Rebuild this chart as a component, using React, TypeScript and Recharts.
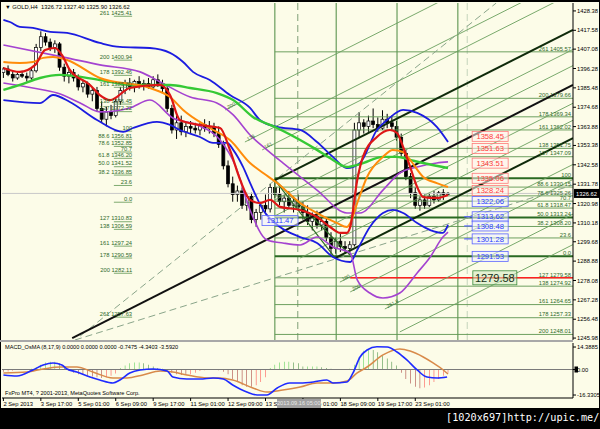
import {
  Bar,
  Cell,
  ComposedChart,
  Line,
  ReferenceDot,
  ReferenceLine,
  XAxis,
  YAxis,
} from 'recharts';

const FONT = '"Liberation Sans", Arial, sans-serif';
const CREAM = '#fcfce8';
const FIB = '#5e9550';
const FIB_DARK = '#2a6a22';
const FIB_TEXT = '#2f6b2a';

const X_DOMAIN: [number, number] = [-0.3, 121.7];
const END = 121.7;
const Y_DOMAIN: [number, number] = [1244.9, 1432.8];
const MACD_DOMAIN: [number, number] = [-18.24, 16.96];

// GOLD H4 bars: [open, high, low, close]
const candles: [number, number, number, number][] = [
  [1394, 1397, 1391, 1396], [1396, 1398, 1392, 1393], [1393, 1395, 1389, 1391], [1391, 1394, 1390, 1393],
  [1393, 1395, 1391, 1392], [1392, 1394, 1389, 1391], [1391, 1396, 1390, 1395], [1395, 1410, 1394, 1408],
  [1408, 1417, 1406, 1414], [1414, 1416, 1409, 1411], [1411, 1413, 1406, 1408], [1408, 1412, 1405, 1410],
  [1410, 1411, 1395, 1397], [1397, 1399, 1389, 1392], [1392, 1396, 1388, 1394], [1394, 1396, 1389, 1391],
  [1391, 1393, 1384, 1386], [1386, 1390, 1383, 1388], [1388, 1389, 1380, 1382], [1382, 1386, 1378, 1384],
  [1384, 1386, 1372, 1374], [1374, 1378, 1366, 1368], [1368, 1375, 1364, 1372], [1372, 1376, 1368, 1370],
  [1370, 1380, 1369, 1378], [1378, 1386, 1376, 1384], [1384, 1390, 1382, 1388], [1388, 1391, 1384, 1386],
  [1386, 1390, 1383, 1389], [1389, 1392, 1385, 1387], [1387, 1390, 1384, 1388], [1388, 1391, 1385, 1386],
  [1386, 1392, 1385, 1390], [1390, 1393, 1386, 1388], [1388, 1390, 1383, 1385], [1385, 1387, 1372, 1374],
  [1374, 1376, 1360, 1362], [1362, 1370, 1357, 1366], [1366, 1370, 1359, 1361], [1361, 1366, 1358, 1364],
  [1364, 1367, 1360, 1363], [1363, 1366, 1360, 1362], [1362, 1366, 1359, 1365], [1365, 1368, 1361, 1363],
  [1363, 1367, 1360, 1364], [1364, 1366, 1358, 1360], [1360, 1364, 1352, 1354], [1354, 1356, 1340, 1342],
  [1342, 1345, 1330, 1332], [1332, 1336, 1322, 1326], [1326, 1331, 1322, 1328], [1328, 1330, 1318, 1320],
  [1320, 1327, 1317, 1325], [1325, 1327, 1310, 1312], [1312, 1318, 1308, 1316], [1316, 1322, 1312, 1320],
  [1320, 1326, 1316, 1318], [1318, 1332, 1316, 1330], [1330, 1335, 1324, 1326], [1326, 1330, 1320, 1322],
  [1322, 1326, 1316, 1324], [1324, 1328, 1318, 1320], [1320, 1325, 1316, 1322], [1322, 1326, 1317, 1319],
  [1319, 1322, 1312, 1316], [1316, 1320, 1309, 1311], [1311, 1316, 1306, 1314], [1314, 1317, 1307, 1309],
  [1309, 1313, 1306, 1311], [1311, 1313, 1300, 1302], [1302, 1305, 1292, 1296], [1296, 1302, 1293, 1300],
  [1300, 1304, 1294, 1297], [1297, 1300, 1293, 1296], [1296, 1300, 1294, 1298], [1298, 1366, 1297, 1362],
  [1362, 1372, 1358, 1366], [1366, 1368, 1360, 1364], [1364, 1370, 1361, 1367], [1367, 1374, 1363, 1365],
  [1365, 1369, 1361, 1363], [1363, 1373, 1362, 1368], [1368, 1371, 1363, 1366], [1366, 1370, 1362, 1364],
  [1364, 1367, 1356, 1358], [1358, 1360, 1347, 1349], [1349, 1351, 1334, 1336], [1336, 1338, 1324, 1327],
  [1327, 1330, 1318, 1320], [1320, 1325, 1317, 1323], [1323, 1326, 1318, 1320], [1320, 1327, 1319, 1325],
  [1325, 1328, 1321, 1323], [1323, 1328, 1322, 1327], [1327, 1329, 1323, 1326], [1326.72, 1327.4, 1325.9, 1326.62],
];

// indicator lines, [bar index, price]
const blueUpper: [number, number][] = [
  [0, 1423.4], [1.4, 1422.2], [3.5, 1419.5], [6.3, 1418.9], [10, 1416.7], [13.6, 1416.1], [20.6, 1410.5],
  [24.9, 1408.3], [31.3, 1407.7], [35.6, 1405], [38.4, 1399.9], [40.5, 1394.4], [44.1, 1389.9], [48.4, 1381.5],
  [52.7, 1374.3], [54.8, 1367.6], [58.5, 1363.7], [63.4, 1362], [67, 1355.3], [70.4, 1347], [73.4, 1340.8],
  [76.2, 1343.6], [79.8, 1362], [82, 1367.6], [85.4, 1373.2], [88.4, 1371.5], [92.6, 1363.7], [95, 1355.3],
];
const blueLower: [number, number][] = [
  [0, 1378.7], [7.8, 1377], [10.6, 1381.5], [14.2, 1377.6], [20, 1367.6], [25.6, 1360.9], [27.7, 1363.1],
  [32.8, 1366.5], [35.6, 1364.8], [37.7, 1362], [42, 1358.1], [44.8, 1354.8], [47.8, 1354.8], [49.1, 1350.9],
  [51.2, 1341.4], [52.7, 1332.5], [55.5, 1317.4], [59.1, 1307.9], [63.4, 1302.3], [67, 1299], [70.4, 1291.2],
  [74.1, 1288.4], [75.6, 1295.1], [78.3, 1307.9], [81.1, 1315.7], [83.2, 1317.4], [85.4, 1315.7], [88.4, 1310.1],
  [91.2, 1306.2], [93.9, 1304.6], [95, 1309.1],
];
const purpleUpper: [number, number][] = [
  [0, 1409.4], [13.6, 1402.2], [20.6, 1398.3], [29.2, 1394.4], [33.5, 1388.8], [39.9, 1380.4], [45.6, 1377.1],
  [49.1, 1370.4], [52.7, 1359.2], [56.3, 1350.9], [59.7, 1343.6], [67, 1328.5], [73.4, 1315.7], [76.2, 1315.7],
  [81.1, 1328.5], [84.7, 1338], [88.4, 1341.4], [92.6, 1343.6], [95, 1344.2],
];
const purpleLower: [number, number][] = [
  [0, 1388.2], [6.3, 1385.4], [11.5, 1382.6], [16.4, 1377.1], [20.6, 1372.1], [27, 1374.3], [31.3, 1378.7],
  [36.2, 1368.7], [41.4, 1364.8], [46.3, 1356.4], [49.5, 1342.5], [52.7, 1317.4], [56.3, 1300.7], [59.7, 1299],
  [63.4, 1297.9], [67, 1302.3], [70.4, 1296.8], [74.1, 1293.4], [75.6, 1278.4], [78.3, 1271.1], [81.1, 1268.3],
  [84.7, 1271.1], [88.4, 1282.3], [91.2, 1291.2], [93.9, 1302.3], [95, 1305.1],
];
const redMa: [number, number][] = [
  [0, 1396.6], [3.5, 1394.4], [6.8, 1398.3], [8.9, 1406.6], [11, 1407.7], [12.5, 1403.8], [14.2, 1395.5],
  [18.5, 1387.1], [20.6, 1381.5], [22.8, 1378.7], [27, 1385.4], [33.5, 1387.1], [35.6, 1381.5], [37.7, 1367.6],
  [42, 1364.8], [46.3, 1363.1], [48.4, 1350.9], [50.6, 1334.1], [52.7, 1323], [54.8, 1321.3], [57, 1323],
  [59.1, 1319.1], [63.4, 1317.4], [67, 1313.5], [69.8, 1307.9], [72, 1304.6], [73.4, 1304.6], [74.1, 1307.9],
  [75.6, 1334.1], [76.8, 1346.9], [79.8, 1358.1], [82.6, 1362], [84.1, 1360.3], [85.4, 1352.5], [86.9, 1341.4],
  [88.4, 1330.2], [89.7, 1324.6], [92.6, 1324.1], [95, 1325.8],
];
const orangeMa: [number, number][] = [
  [0, 1399.9], [3.5, 1399.4], [6.3, 1399.9], [8.5, 1402.2], [10.6, 1402.7], [13.6, 1401], [20.6, 1391],
  [31.3, 1385.4], [35.6, 1380.4], [38.4, 1373.2], [44.1, 1363.1], [48.4, 1356.4], [52.7, 1343.6], [55.5, 1338],
  [58.5, 1332.4], [63.4, 1321.3], [67, 1315.7], [71.3, 1310.1], [73.4, 1307.9], [74.1, 1310.1], [75.6, 1321.3],
  [77.7, 1335.8], [81.1, 1347], [83.2, 1350.9], [85.4, 1349.7], [86.9, 1345.3], [89.7, 1335.8], [92.6, 1332.4],
  [95, 1330.2],
];
const greenMa: [number, number][] = [
  [0, 1384.3], [3.5, 1387.1], [7.8, 1391], [12.1, 1392.7], [20.6, 1389.9], [27.7, 1387.1], [35.6, 1387.1],
  [39.9, 1385.4], [45.6, 1382.6], [49.1, 1378.7], [53.3, 1369.3], [58.5, 1363.1], [63.4, 1356.4], [67, 1350.9],
  [70.4, 1345.3], [73.4, 1341.4], [76.2, 1343], [81.1, 1347], [84.1, 1347], [86.9, 1345.3], [89.7, 1343.6],
  [95, 1340.8],
];

// MACD_OsMA (8,17,9)
const osma = [
  -1.5, -1.2, -0.8, 0, 0.2, 0.3, 0.5, 1.5, 3, 4.5,
  5, 5, 4, 2, -1, -2, -3, -3.5, -4, -4.5,
  -5, -5.5, -5, -4, -2.5, 1, 2.5, 4, 4.5, 4.5,
  4, 3, 2, 1, 0.5, -0.5, -2, -3, -3.5, -3.5,
  -3, -2, -1, -0.5, 0.3, 0.3, -0.5, -1.5, -3, -6,
  -8, -10, -11, -11, -10, -8, -5, 1, 3, 4.5,
  5, 5, 4.5, 4, 2, 2, 2, 2, 1.5, 1,
  0.5, -0.3, -0.3, -0.3, 0.5, 3, 8, 12, 13, 12.5,
  11, 9, 7, 5, 2.5, -2, -6, -9, -11, -12,
  -11.5, -10, -8, -6, -4, -2,
];
const macdMain: [number, number][] = [
  [0, -3.5], [2.9, -4.2], [6.3, -0.3], [8.5, 2.9], [10.6, 4.2], [12.5, 2.9], [13.6, 0.3], [15.7, -1.6],
  [18.5, -4.8], [20.6, -6.7], [23.4, -8.6], [24.9, -6.7], [27, -2.2], [29.2, -0.3], [32, 0.3], [35, -1],
  [36.2, -4.8], [39.2, -6.1], [42, -6.1], [44.8, -5.4], [47, -6.1], [49, -9.9], [52, -14.4], [54.2, -16.3],
  [56.3, -16.3], [58.5, -11.8], [61.2, -8.6], [63.4, -8.6], [66.2, -8], [69.1, -6.7], [70.4, -8.6], [73.4, -8],
  [74.7, -2.2], [76.2, 8], [77.7, 12.5], [79.8, 14.6], [82, 14.4], [84.1, 11.2], [86.2, 6.1], [88.4, -0.3],
  [90.5, -4.8], [92.7, -5.4], [94.8, -4.8],
];
const macdSignal: [number, number][] = [
  [0, -2.2], [5, -1.6], [8.5, 0.3], [12.1, 1.6], [15.7, 1.6], [19.1, -1.6], [23.4, -5.4], [26.4, -5.4],
  [29.8, -3.5], [33.5, -1], [36.2, -1.6], [39.2, -3.5], [43.5, -5.4], [46.3, -5.4], [49, -6.7], [53.3, -11.8],
  [56.3, -14.4], [59.7, -13.1], [63.4, -11.2], [67, -8.6], [70.4, -8.6], [73.4, -7.4], [75.6, -2.2], [77.7, 1.6],
  [81.1, 9.3], [84.7, 13.1], [86.9, 11.8], [89.7, 8], [91.8, 4.2], [94, -0.3], [95, -2.9],
];

const priceTicks = [
  1428.38, 1417.58, 1407.08, 1396.28, 1385.48, 1374.68, 1363.88, 1353.38, 1342.58, 1331.78,
  1320.98, 1310.18, 1299.68, 1288.88, 1278.08, 1267.28, 1256.48, 1245.98,
];
const macdTicks = [14.3885, 0, -16.3305];
const timeTicks = [0, 8, 16, 24, 32, 40, 48, 56, 64, 72, 80, 88];
const timeLabels = [
  '2 Sep 2013', '3 Sep 17:00', '5 Sep 01:00', '6 Sep 09:00', '9 Sep 17:00', '11 Sep 01:00',
  '12 Sep 09:00', '13 Sep 17:00', '17 Sep 01:00', '18 Sep 09:00', '19 Sep 17:00', '23 Sep 01:00',
];

// fibonacci levels: [level, price, price shown]
const fibRight: [string, number, boolean][] = [
  ['261', 1405.57, true], ['200', 1379.66, true], ['178', 1369.34, true], ['161', 1362.02, true],
  ['138', 1351.75, true], ['127', 1347.09, true], ['100', 1335.06, false], ['88.6', 1330.15, true],
  ['78.6', 1325.26, true], ['70.7', 1322.31, false], ['61.8', 1318.47, true], ['50.0', 1313.24, true],
  ['38.2', 1308.2, true], ['23.6', 1301.8, false], ['0.0', 1291.53, false], ['127', 1279.58, true],
  ['138', 1274.92, true], ['161', 1264.65, true], ['178', 1257.33, true], ['200', 1248.01, true],
];
const fibLeft: [string, number, boolean][] = [
  ['261', 1425.41, true], ['200', 1400.94, true], ['178', 1392.46, true], ['161', 1385.8, true],
  ['138', 1376.45, true], ['127', 1372.22, true], ['100', 1361.33, false], ['88.6', 1356.81, true],
  ['78.6', 1352.85, true], ['70.7', 1349.72, false], ['61.8', 1346.2, true], ['50.0', 1341.52, true],
  ['38.2', 1336.85, true], ['23.6', 1331.07, false], ['0.0', 1321.72, false], ['127', 1310.83, true],
  ['138', 1306.59, true], ['161', 1297.24, true], ['178', 1290.59, true], ['200', 1282.11, true],
  ['261', 1257.63, true],
];
const FIB_RIGHT_START = 58.0;
const FIB_LEFT_SPAN: [number, number] = [23.6, 27.5];
const targetLine = 1279.58;
const TARGET_START = 74.1;

// drawn objects, [i1, p1, i2, p2]
const pitchfork: [number, number, number, number][] = [
  [14.7, 1246.0, 121.7, 1387.1],
  [58.0, 1334.1, 121.7, 1417.8],
  [70.9, 1290.6, 121.7, 1357.5],
];
const channelLines: [number, number, number, number][] = [
  [47.4, 1373.2, 121.7, 1471.1], [51.6, 1355.3, 121.7, 1447.6], [55.3, 1350.9, 121.7, 1438.4],
  [58.0, 1323.0, 121.7, 1406.9], [58.0, 1314.1, 121.7, 1397.9], [63.4, 1300.1, 121.7, 1376.9],
  [63.4, 1290.6, 121.7, 1367.4], [71.9, 1277.2, 121.7, 1342.8], [74.1, 1271.7, 121.7, 1334.4],
  [81.5, 1262.2, 121.7, 1315.1], [84.7, 1249.4, 121.7, 1298.1],
];
const channelTags = ['200', '178', '161', '', '', '', '', '100', '200', '261.8', ''];
const fanLines: [number, number, number, number][] = [
  [16.4, 1247.1, 105.3, 1432.8],
  [15.3, 1244.9, 121.7, 1331.3],
];
const anchorLines: [number, number, number, number][] = [
  [58.0, 1334.1, 70.9, 1290.6],
  [58.0, 1334.1, 74.1, 1292.3],
];
const timeZones = [58.0, 71.1, 84.1, 97.1];
const dashedZones = [62.9, 99.1];

// price tags
const resistTags = [1358.45, 1351.63, 1343.51, 1335.06, 1328.24];
const supportTags = [1322.06, 1313.62, 1308.48, 1301.28, 1291.53];
const arrowTags = [1313.62, 1308.48, 1301.28];
const targetTag = 1279.58;
const TAG_I = 104;
const leftTag: [number, number] = [59.1, 1311.47];

const lastBar = candles[candles.length - 1];
const bars = candles.map(([o, h, l, c], i) => ({ i, o, c, range: [l, h] as [number, number] }));
const oscBars = osma.map((h, i) => ({ i, h }));
const toPts = (arr: [number, number][]) => arr.map(([i, v]) => ({ i, v }));

function Candle(props: any) {
  const { x, y, width, height, payload } = props;
  if (x == null || y == null) return null;
  const [lo, hi] = payload.range;
  const h = Math.abs(height);
  const span = hi - lo || 1;
  const py = (v: number) => y + ((hi - v) / span) * h;
  const cx = x + width / 2;
  const top = py(Math.max(payload.o, payload.c));
  const bot = py(Math.min(payload.o, payload.c));
  const up = payload.c >= payload.o;
  return (
    <g>
      <line x1={cx} x2={cx} y1={y} y2={y + h} stroke="#000" strokeWidth={1} />
      <rect
        x={cx - 1.5}
        y={top}
        width={3}
        height={Math.max(1, bot - top)}
        fill={up ? '#fff' : '#000'}
        stroke="#000"
        strokeWidth={0.7}
      />
    </g>
  );
}

function Tag({ cx, cy, text, kind, arrow }: any) {
  const big = kind === 'target';
  const w = big ? 44 : 36;
  const h = big ? 14 : 10;
  const c =
    kind === 'red'
      ? { stroke: '#ff7a7a', text: '#ff3b3b', fill: '#fff1ee' }
      : kind === 'blue'
        ? { stroke: '#5a64ff', text: '#2a3cff', fill: '#eef0ff' }
        : { stroke: '#3c8c3c', text: '#163016', fill: '#cfe8bf' };
  return (
    <g>
      {arrow && <line x1={cx - w / 2 - 8} x2={cx - w / 2} y1={cy} y2={cy} stroke={c.stroke} strokeWidth={1.2} />}
      <rect x={cx - w / 2} y={cy - h / 2} width={w} height={h} fill={c.fill} fillOpacity={0.55} stroke={c.stroke} strokeWidth={0.8} />
      <text x={cx} y={cy + (big ? 4 : 2.7)} textAnchor="middle" fontSize={big ? 11 : 7.6} fill={c.text} fontFamily={FONT}>
        {text}
      </text>
    </g>
  );
}

const fibText = (pct: string, price: number, show: boolean) => (show ? `${pct}  ${price.toFixed(2)}` : pct);

function TimeTick(props: any) {
  const { x, y, payload } = props;
  const k = timeTicks.indexOf(payload.value);
  return (
    <text x={x} y={y + 4.6} fontSize={5.8} fill="#000" fontFamily={FONT}>
      {timeLabels[k]}
    </text>
  );
}

function histColor(v: number, prev: number) {
  if (v >= 0) return v >= prev ? '#22c022' : '#0b6a0b';
  return v <= prev ? '#8b0000' : '#ff1a1a';
}

const lineProps = { dot: false, activeDot: false, isAnimationActive: false, dataKey: 'v', type: 'monotone' as const };

export default function App() {
  return (
    <div style={{ position: 'absolute', left: 0, top: 0, width: 600, height: 429, background: '#000', overflow: 'hidden', fontFamily: FONT }}>
      <div style={{ position: 'absolute', left: 1, top: 2, width: 598, height: 406, background: CREAM }} />

      <div style={{ position: 'absolute', left: 0, top: 0 }}>
        <ComposedChart width={600} height={342} data={bars} margin={{ top: 3, right: 0, bottom: 2, left: 2 }}>
          <XAxis dataKey="i" type="number" domain={X_DOMAIN} allowDataOverflow hide />
          <YAxis
            orientation="right"
            type="number"
            width={27}
            domain={Y_DOMAIN}
            allowDataOverflow
            ticks={priceTicks}
            interval={0}
            tickSize={3}
            tickMargin={1}
            tick={{ fontSize: 5.8, fill: '#000', fontFamily: FONT }}
            tickFormatter={(v: number) => v.toFixed(2)}
            axisLine={{ stroke: '#000' }}
            tickLine={{ stroke: '#000' }}
          />

          <ReferenceLine y={lastBar[3]} stroke="#c8c8c8" />

          {timeZones.map((x) => (
            <ReferenceLine key={`tz${x}`} x={x} stroke="#4c8a40" strokeWidth={1} />
          ))}
          {dashedZones.map((x, k) => (
            <ReferenceLine key={`dz${x}`} x={x} stroke={k === 0 ? '#7f9f77' : '#c4d4bc'} strokeDasharray="7 4" />
          ))}

          {fibRight.map(([pct, p]) => {
            const thick = pct === '100' || pct === '0.0' || pct === '50.0';
            return (
              <ReferenceLine
                key={`fr${pct}${p}`}
                segment={[{ x: FIB_RIGHT_START, y: p }, { x: END, y: p }]}
                stroke={thick ? FIB_DARK : FIB}
                strokeWidth={thick ? 2 : 0.9}
                ifOverflow="hidden"
              />
            );
          })}
          <ReferenceLine
            segment={[{ x: TARGET_START, y: targetLine }, { x: END, y: targetLine }]}
            stroke="#ff2020"
            strokeWidth={1.6}
            ifOverflow="hidden"
          />
          {fibLeft.map(([pct, p]) => (
            <ReferenceLine
              key={`fl${pct}${p}`}
              segment={[{ x: FIB_LEFT_SPAN[0], y: p }, { x: FIB_LEFT_SPAN[1], y: p }]}
              stroke={FIB}
              strokeWidth={0.8}
              ifOverflow="hidden"
            />
          ))}

          {channelLines.map(([a, b, c, d], k) => (
            <ReferenceLine
              key={`ch${k}`}
              segment={[{ x: a, y: b }, { x: c, y: d }]}
              stroke="#6a9f5e"
              strokeWidth={0.9}
              ifOverflow="hidden"
            />
          ))}
          {fanLines.map(([a, b, c, d], k) => (
            <ReferenceLine
              key={`fan${k}`}
              segment={[{ x: a, y: b }, { x: c, y: d }]}
              stroke="#8aa58a"
              strokeDasharray="7 4"
              strokeWidth={1}
              ifOverflow="hidden"
            />
          ))}
          {anchorLines.map(([a, b, c, d], k) => (
            <ReferenceLine
              key={`an${k}`}
              segment={[{ x: a, y: b }, { x: c, y: d }]}
              stroke="#2e6b25"
              strokeWidth={1.2}
              ifOverflow="hidden"
            />
          ))}
          {pitchfork.map(([a, b, c, d], k) => (
            <ReferenceLine
              key={`pf${k}`}
              segment={[{ x: a, y: b }, { x: c, y: d }]}
              stroke={k === 0 ? '#111' : '#0f2a0a'}
              strokeWidth={2}
              ifOverflow="hidden"
            />
          ))}

          <Bar dataKey="range" barSize={3} isAnimationActive={false} shape={(p: any) => <Candle {...p} />} />

          <Line {...lineProps} data={toPts(blueUpper)} stroke="#1c1ce0" strokeWidth={1.8} />
          <Line {...lineProps} data={toPts(blueLower)} stroke="#1c1ce0" strokeWidth={1.8} />
          <Line {...lineProps} data={toPts(purpleUpper)} stroke="#a443d0" strokeWidth={1.6} />
          <Line {...lineProps} data={toPts(purpleLower)} stroke="#a443d0" strokeWidth={1.6} />
          <Line {...lineProps} data={toPts(greenMa)} stroke="#35c935" strokeWidth={2.4} />
          <Line {...lineProps} data={toPts(orangeMa)} stroke="#ff8c0a" strokeWidth={2} />
          <Line {...lineProps} data={toPts(redMa)} stroke="#dd1616" strokeWidth={2.2} />

          {fibRight.map(([pct, p, show]) => (
            <ReferenceDot
              key={`frt${pct}${p}`}
              x={END}
              y={p}
              r={0}
              ifOverflow="visible"
              shape={(s: any) => (
                <text x={s.cx - 2} y={s.cy - 1.3} textAnchor="end" fontSize={5.8} fill={FIB_TEXT} fontFamily={FONT}>
                  {fibText(pct, p, show)}
                </text>
              )}
            />
          ))}
          {fibLeft.map(([pct, p, show]) => (
            <ReferenceDot
              key={`flt${pct}${p}`}
              x={FIB_LEFT_SPAN[1]}
              y={p}
              r={0}
              ifOverflow="visible"
              shape={(s: any) => (
                <text x={s.cx} y={s.cy - 1.3} textAnchor="end" fontSize={5.8} fill={FIB_TEXT} fontFamily={FONT}>
                  {fibText(pct, p, show)}
                </text>
              )}
            />
          ))}
          {channelLines.map(([a, b], k) =>
            channelTags[k] ? (
              <ReferenceDot
                key={`cht${k}`}
                x={a}
                y={b}
                r={0}
                ifOverflow="visible"
                shape={(s: any) => (
                  <text
                    x={s.cx + 3}
                    y={s.cy - 1}
                    transform={`rotate(-27 ${s.cx + 3} ${s.cy - 1})`}
                    fontSize={5}
                    fill={FIB_TEXT}
                    fontFamily={FONT}
                  >
                    {channelTags[k]}
                  </text>
                )}
              />
            ) : null,
          )}

          {resistTags.map((p) => (
            <ReferenceDot key={`rt${p}`} x={TAG_I} y={p} r={0} shape={(s: any) => <Tag cx={s.cx} cy={s.cy} text={p.toFixed(2)} kind="red" />} />
          ))}
          {supportTags.map((p) => (
            <ReferenceDot
              key={`st${p}`}
              x={TAG_I}
              y={p}
              r={0}
              shape={(s: any) => <Tag cx={s.cx} cy={s.cy} text={p.toFixed(2)} kind="blue" arrow={arrowTags.includes(p)} />}
            />
          ))}
          <ReferenceDot x={TAG_I + 1} y={targetTag} r={0} shape={(s: any) => <Tag cx={s.cx} cy={s.cy} text={targetTag.toFixed(2)} kind="target" />} />
          <ReferenceDot
            x={leftTag[0]}
            y={leftTag[1]}
            r={0}
            shape={(s: any) => <Tag cx={s.cx} cy={s.cy} text={leftTag[1].toFixed(2)} kind="blue" />}
          />

          <ReferenceDot
            x={END}
            y={lastBar[3]}
            r={0}
            ifOverflow="visible"
            shape={(s: any) => (
              <g>
                <rect x={s.cx + 1} y={s.cy - 4.5} width={26} height={9} fill="#000" />
                <text x={s.cx + 3} y={s.cy + 2.1} fontSize={5.8} fill="#fff" fontFamily={FONT}>
                  {lastBar[3].toFixed(2)}
                </text>
              </g>
            )}
          />
        </ComposedChart>
      </div>

      <div style={{ position: 'absolute', left: 0, top: 340, width: 573, height: 2, background: '#a8a8a8' }} />

      <div style={{ position: 'absolute', left: 0, top: 341 }}>
        <ComposedChart width={600} height={68} data={oscBars} margin={{ top: 2, right: 0, bottom: 1, left: 2 }}>
          <XAxis
            dataKey="i"
            type="number"
            domain={X_DOMAIN}
            allowDataOverflow
            ticks={timeTicks}
            interval={0}
            height={10}
            tickSize={3}
            tickMargin={0}
            tick={(p: any) => <TimeTick {...p} />}
            axisLine={{ stroke: '#000' }}
            tickLine={{ stroke: '#000' }}
          />
          <YAxis
            orientation="right"
            type="number"
            width={27}
            domain={MACD_DOMAIN}
            allowDataOverflow
            ticks={macdTicks}
            interval={0}
            tickSize={3}
            tickMargin={1}
            tick={{ fontSize: 5.8, fill: '#000', fontFamily: FONT }}
            tickFormatter={(v: number) => (v === 0 ? '0.00' : String(v))}
            axisLine={{ stroke: '#000' }}
            tickLine={{ stroke: '#000' }}
          />
          <ReferenceLine y={0} stroke="#7a7a7a" />
          <Bar dataKey="h" barSize={2} isAnimationActive={false}>
            {oscBars.map((d, k) => (
              <Cell key={k} fill={histColor(d.h, k > 0 ? osma[k - 1] : 0)} />
            ))}
          </Bar>
          <Line {...lineProps} data={toPts(macdSignal)} stroke="#d88a4a" strokeWidth={1.5} />
          <Line {...lineProps} data={toPts(macdMain)} stroke="#1f2bff" strokeWidth={1.6} />
          <ReferenceDot
            x={END}
            y={0}
            r={0}
            ifOverflow="visible"
            shape={(s: any) => <rect x={s.cx + 1.5} y={s.cy - 3} width={3.5} height={6} fill="#000" />}
          />
        </ComposedChart>
      </div>

      <div style={{ position: 'absolute', left: 5, top: 4, fontSize: 5.8, color: '#000', whiteSpace: 'pre', lineHeight: '7px' }}>
        {'▼ GOLD,H4  1326.72 1327.40 1325.90 1326.62'}
      </div>
      <div style={{ position: 'absolute', left: 5, top: 344, fontSize: 5.6, color: '#000', whiteSpace: 'pre', lineHeight: '7px' }}>
        {'MACD_OsMA (8,17,9) 0.0000 0.0000 0.0000 -0.7475 -4.3403 -3.5920'}
      </div>
      <div style={{ position: 'absolute', left: 5, top: 390, fontSize: 5.6, color: '#000', whiteSpace: 'pre', lineHeight: '7px' }}>
        {'FxPro MT4, ? 2001-2013, MetaQuotes Software Corp.'}
      </div>
      <div
        style={{
          position: 'absolute',
          left: 277,
          top: 399,
          width: 44,
          height: 9,
          background: '#a0a0a0',
          color: '#e8e8e8',
          fontSize: 5.6,
          lineHeight: '9px',
          whiteSpace: 'pre',
          overflow: 'hidden',
        }}
      >
        {'2013.09.16 05:00'}
      </div>
      <div
        style={{
          position: 'absolute',
          left: 446,
          top: 411,
          fontSize: 10.2,
          color: '#fff',
          fontFamily: '"DejaVu Sans Mono", monospace',
          whiteSpace: 'pre',
          lineHeight: '14px',
        }}
      >
        {'[1020x697]http://upic.me/'}
      </div>
    </div>
  );
}
